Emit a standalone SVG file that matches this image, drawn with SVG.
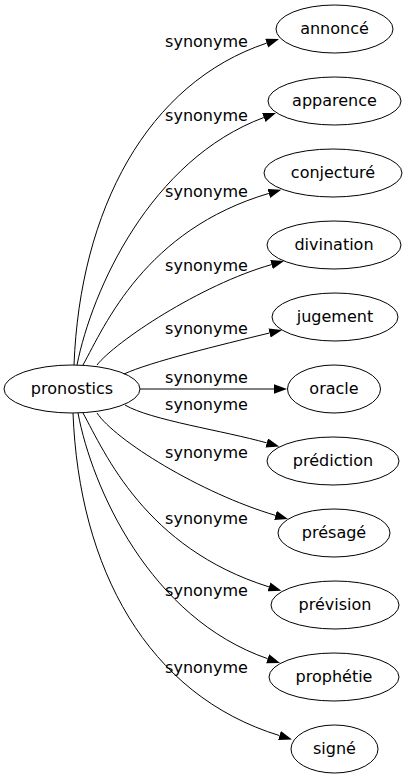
<svg xmlns="http://www.w3.org/2000/svg" width="409" height="779" viewBox="0 0 409 779">
<defs>
<marker id="arr" markerUnits="userSpaceOnUse" markerWidth="14" markerHeight="10" refX="0" refY="4.7" orient="auto">
<path d="M0,0 L13,4.7 L0,9.4 z" fill="#000"/>
</marker>
<style>
.n ellipse{fill:none;stroke:#000;stroke-width:1}
.n text{font-family:"DejaVu Sans",sans-serif;font-size:16px;text-anchor:middle;fill:#000}
.e path{fill:none;stroke:#000;stroke-width:1;marker-end:url(#arr)}
.e text{font-family:"DejaVu Sans",sans-serif;font-size:16px;text-anchor:middle;fill:#000}
</style>
</defs>
<rect width="409" height="779" fill="#fff"/>
<g id="edges" class="e">
<path d="M74,365 C80,210 147,83 266.7,43.1"/>
<path d="M77,365 C92,290 150,160 263.8,117.5"/>
<path d="M83,365 C105,325 145,230 268.8,193.4"/>
<path d="M97,365 C115,342 200,285 271.5,264.6"/>
<path d="M124,374 C150,362 220,345 269.5,333"/>
<path d="M140,389 L274,389"/>
<path d="M125,405 C150,420 225,431 266.7,442.9"/>
<path d="M97,413 C115,440 200,493 275.5,515.4"/>
<path d="M83,413 C105,453 145,548 269,586.9"/>
<path d="M78,413 C92,488 150,618 267.7,658.7"/>
<path d="M73,413 C79,568 147,695 279.5,735.6"/>
<text x="206.5" y="47">synonyme</text>
<text x="206.5" y="121">synonyme</text>
<text x="206.5" y="197">synonyme</text>
<text x="206.5" y="271">synonyme</text>
<text x="206.5" y="334">synonyme</text>
<text x="206.5" y="383">synonyme</text>
<text x="206.5" y="410">synonyme</text>
<text x="206.5" y="458">synonyme</text>
<text x="206.5" y="524">synonyme</text>
<text x="206.5" y="596">synonyme</text>
<text x="206.5" y="673">synonyme</text>
</g>
<g id="pronostics" class="n"><ellipse cx="72" cy="389" rx="68" ry="24"/><text x="72" y="393.5">pronostics</text></g>
<g id="annonce" class="n"><ellipse cx="334.5" cy="29" rx="58.5" ry="24"/><text x="334.5" y="33.5">annoncé</text></g>
<g id="apparence" class="n"><ellipse cx="334.5" cy="101" rx="66.5" ry="24"/><text x="334.5" y="105.5">apparence</text></g>
<g id="conjecture" class="n"><ellipse cx="333" cy="173" rx="69" ry="24"/><text x="333" y="177.5">conjecturé</text></g>
<g id="divination" class="n"><ellipse cx="334" cy="245" rx="67" ry="24"/><text x="334" y="249.5">divination</text></g>
<g id="jugement" class="n"><ellipse cx="335" cy="317" rx="63" ry="24"/><text x="335" y="321.5">jugement</text></g>
<g id="oracle" class="n"><ellipse cx="334" cy="389" rx="46.5" ry="24"/><text x="334" y="393.5">oracle</text></g>
<g id="prediction" class="n"><ellipse cx="333" cy="461" rx="66" ry="24"/><text x="333" y="465.5">prédiction</text></g>
<g id="presage" class="n"><ellipse cx="334" cy="533" rx="56" ry="24"/><text x="334" y="537.5">présagé</text></g>
<g id="prevision" class="n"><ellipse cx="335" cy="605" rx="64" ry="24"/><text x="335" y="609.5">prévision</text></g>
<g id="prophetie" class="n"><ellipse cx="334" cy="677" rx="65" ry="24"/><text x="334" y="681.5">prophétie</text></g>
<g id="signe" class="n"><ellipse cx="334.5" cy="749" rx="43.5" ry="24"/><text x="334.5" y="753.5">signé</text></g>
</svg>
